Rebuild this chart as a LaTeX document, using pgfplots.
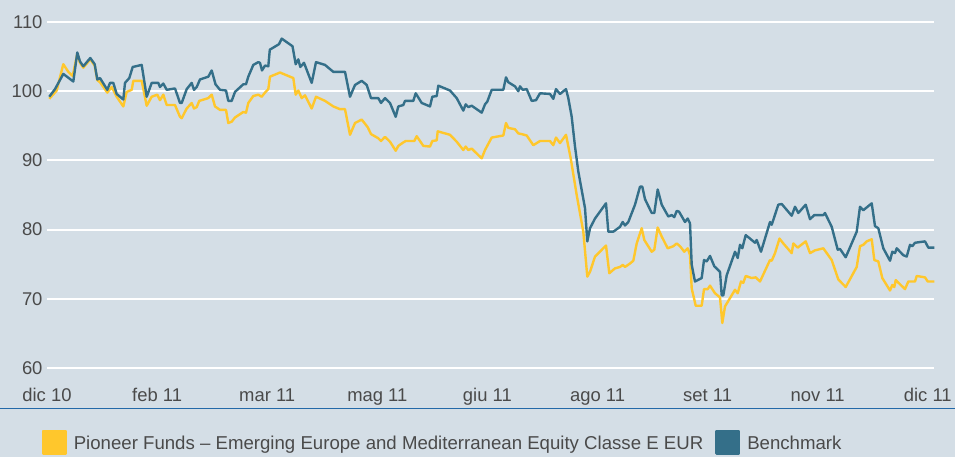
\documentclass[border=0pt]{standalone}
\usepackage{fontspec}
\setmainfont{Liberation Sans}
\usepackage{pgfplots}
\pgfplotsset{compat=1.18}
\definecolor{bg}{HTML}{D4DEE6}
\definecolor{fundy}{HTML}{FFC72C}
\definecolor{bench}{HTML}{346F89}
\definecolor{txt}{HTML}{4A4A4A}
\definecolor{rulec}{HTML}{2369A8}
\begin{document}
\begin{tikzpicture}
\useasboundingbox (0,0) rectangle (955bp,457bp);
\fill[bg] (0,0) rectangle (955bp,457bp);
\draw[rulec, line width=1.5bp] (0,48.7bp) -- (955bp,48.7bp);
\begin{axis}[
  at={(47bp,89bp)}, anchor=south west,
  scale only axis, width=887.3bp, height=346bp,
  xmin=47, xmax=934.3, ymin=60, ymax=110,
  axis line style={draw=none},
  major tick length=0pt,
  ytick={60,70,80,90,100,110},
  yticklabels={60,70,80,90,100,110},
  xtick={47,157.1,267.2,377.3,487.4,597.5,707.6,817.7,927.8},
  xticklabels={dic 10,feb 11,mar 11,mag 11,giu 11,ago 11,set 11,nov 11,dic 11},
  ymajorgrids, grid style={white, line width=2bp},
  tick label style={font=\fontsize{18.5}{22}\selectfont, text=txt},
  xticklabel style={anchor=base, yshift=-33.7bp},
  yticklabel style={anchor=east, inner sep=0pt, xshift=-4.3bp},
  clip=false,
  legend columns=2,
  legend style={at={(-0.006,-0.214)}, anchor=west, draw=none, fill=none,
    inner sep=0pt, font=\fontsize{18.7}{22}\selectfont, text=txt,
    /tikz/every even column/.append style={column sep=10bp}},
  legend image code/.code={\fill (0bp,-11.3bp) rectangle (22.7bp,11.3bp); \path (27.5bp,0bp);},
  every axis plot/.append style={line width=2.4bp, line join=round},
]
\addplot[color=fundy] coordinates {
(49.3,98.9)(56.7,100.1)(63.3,103.9)(68.3,102.8)(72.7,102.2)(77.3,105.4)(80,104.1)(83.3,103.4)(90.3,104.6)(94.7,103.7)(97.3,101.6)(100,101.3)(107.3,99.8)(111.7,100.6)(116.7,99.2)(123.3,97.8)(126.7,99.9)(131.7,100.2)(133.3,101.5)(141.7,101.5)(146.7,97.9)(151.7,99.2)(157.3,99.5)(160,98.7)(163.3,99.5)(166.7,98.0)(175,98.0)(180,96.3)(181.7,96.1)(186.7,97.5)(191.7,98.3)(194,97.5)(196.7,97.7)(199.3,98.6)(208.3,99.0)(211.7,99.5)(215,97.8)(220,97.3)(226,97.3)(228.3,95.4)(231.7,95.6)(235,96.2)(243.3,97.0)(246,96.9)(248.3,98.3)(253.3,99.3)(258.3,99.5)(261.7,99.2)(265,99.8)(268.3,100.3)(270,102.1)(280,102.7)(293.3,101.9)(295.7,99.5)(298.3,100.1)(301.7,99.0)(305,99.4)(311.7,97.5)(316,99.2)(325,98.6)(333.3,97.8)(340,97.4)(345,97.4)(350,93.7)(355,95.4)(361.7,95.9)(367.7,94.8)(371,93.8)(378.3,93.2)(381,92.8)(385,93.4)(390,92.7)(395.7,91.4)(398.3,92.1)(403.3,92.6)(405.7,92.8)(414.3,92.8)(416.7,93.5)(423.3,92.1)(430,92.0)(432.3,92.8)(436.7,92.9)(437.7,94.2)(450,93.7)(456.7,92.7)(463.3,91.5)(465.7,92.0)(468.3,91.5)(471.7,91.7)(481.7,90.3)(485,91.5)(491.7,93.3)(503.3,93.6)(506,95.4)(508.3,94.7)(515,94.5)(518.3,93.9)(521.7,93.8)(526.7,93.6)(533.3,92.2)(540,92.8)(550,92.8)(553.3,92.2)(556,93.3)(560,92.5)(566,93.7)(570.7,90.3)(576.7,85.0)(583.3,79.7)(587.3,73.2)(590,73.9)(595,76.1)(606,77.7)(609.3,73.7)(615,74.4)(620,74.6)(622.7,74.9)(625,74.6)(630,75.1)(633.3,75.5)(636.7,78.0)(641.7,80.2)(644.3,78.5)(651.7,76.8)(654.3,77.1)(657.7,80.3)(661.7,79.0)(667.7,77.3)(673.3,77.6)(676.7,78.0)(680,77.6)(684.3,76.8)(687.7,77.3)(690,76.3)(691.7,71.5)(695.7,69.0)(701.7,69.0)(704,71.4)(707.7,71.4)(710,71.9)(715,70.8)(720,70.2)(722.3,66.5)(725,68.9)(735,71.3)(737.7,70.8)(741,72.5)(743.3,72.3)(745.7,73.3)(751.7,73.0)(755.7,73.1)(760,72.5)(770,75.6)(771.7,75.5)(775,76.6)(779.5,78.7)(783.3,78.0)(791.7,76.6)(793.3,78.0)(797.7,77.4)(805.7,78.3)(810,76.6)(815,77.0)(823.3,77.3)(831.7,75.6)(838.3,72.8)(845.7,71.7)(856.7,74.6)(860,77.6)(863.3,77.8)(866.7,78.3)(871.7,78.6)(874.3,75.6)(878.3,75.4)(882.3,73.0)(890,71.2)(892.3,72.0)(894.3,71.7)(895.7,72.7)(905,71.4)(908.3,72.5)(915,72.5)(916.7,73.3)(925,73.1)(927.7,72.5)(934.3,72.5)
};
\addlegendentry{\raisebox{-3.5bp}{Pioneer Funds -- Emerging Europe and Mediterranean Equity Classe E EUR}}
\addplot[color=bench] coordinates {
(49.3,99.2)(55,100.3)(63.3,102.5)(73.3,101.4)(77.3,105.6)(80,104.3)(83.3,103.6)(90.3,104.8)(94.7,103.9)(97.3,101.7)(100,101.9)(107.3,100.2)(110,101.2)(113.3,101.2)(116.7,99.6)(123.3,98.8)(125,101.2)(129.3,101.9)(132.7,103.5)(141.7,103.8)(146.7,99.2)(151.7,101.2)(158.3,101.2)(160,100.6)(163.3,101.1)(166.7,100.2)(175,100.4)(180,98.3)(181.7,98.3)(186.7,100.3)(191.7,101.2)(194,100.2)(196.7,100.6)(200,101.7)(208.3,102.1)(211.7,103.0)(215.5,101.0)(220,100.2)(226,100.1)(228.3,98.6)(231.7,98.6)(235,99.9)(243.3,101.0)(246,101.0)(248.3,102.1)(253.3,103.8)(258.3,104.2)(260,104.1)(262,103.0)(265,103.7)(268.3,103.6)(269.8,106.0)(279,106.8)(281.7,107.6)(292.5,106.5)(295.7,103.9)(298.3,104.6)(300.3,103.5)(304,104.1)(311.7,101.2)(316,104.2)(325,103.8)(333.3,102.8)(345,102.8)(350,99.2)(355,100.9)(361.7,101.5)(366.7,100.9)(371,99.0)(378.3,99.0)(381,98.3)(385,99.0)(390,98.3)(395.7,96.3)(398.3,97.8)(403.3,98.0)(405,98.6)(413.3,98.6)(415.7,99.7)(421.7,98.3)(430,97.8)(432.3,99.2)(436.7,99.3)(438.3,100.8)(450,100.1)(456.7,99.0)(463.3,97.2)(465.7,98.1)(468.3,97.7)(471.7,97.9)(481.7,96.9)(485,98.1)(487.3,98.5)(491.7,100.2)(503.3,100.2)(506,102.0)(508.3,101.3)(515,100.7)(518.3,100.0)(520,100.7)(522.7,100.2)(526.7,100.3)(531.7,98.6)(536,98.7)(540,99.7)(550,99.6)(553.3,98.9)(556,100.3)(560,99.6)(566,100.3)(568.3,99.0)(571.7,96.3)(575,92.0)(578.3,88.4)(585,83.1)(587.3,78.3)(590,80.2)(595,81.6)(606,83.8)(608.3,79.7)(613.3,79.7)(620,80.4)(622.7,81.1)(625,80.6)(628.3,81.1)(635,83.6)(640,86.2)(642.3,86.2)(645,84.4)(651.7,82.4)(654.3,82.4)(657.7,85.8)(661.7,83.6)(668.3,81.9)(671.7,82.1)(674.3,81.8)(676.7,82.7)(679,82.6)(685,81.1)(687.7,81.6)(690,80.9)(691.7,74.9)(695,72.5)(701.7,73.0)(704,75.6)(706.7,75.4)(710,76.2)(714.3,74.7)(720,73.9)(721.7,70.5)(723.3,70.5)(726.7,73.4)(735,76.8)(737.7,75.9)(740,77.8)(742.3,77.3)(745.7,79.2)(750,78.7)(755,78.1)(756.7,78.5)(761,76.8)(770,81.1)(771.7,80.7)(778.3,83.6)(781.7,83.7)(791.7,82.0)(795,83.3)(798.3,82.4)(805.7,83.6)(810,81.5)(814.3,82.1)(823.3,82.1)(825,82.4)(831.7,80.4)(837.7,77.1)(840,77.2)(845.7,76.0)(856.7,79.7)(860,83.3)(863.3,82.8)(871.7,83.8)(875,80.5)(878.3,80.2)(883.3,77.3)(890,75.5)(892.3,76.8)(895,76.6)(896.7,77.3)(903.3,76.3)(906.7,76.1)(910,77.8)(912.3,77.6)(915,78.1)(925,78.3)(928.3,77.4)(934.3,77.4)
};
\addlegendentry{\raisebox{-3.5bp}{Benchmark}}
\end{axis}
\end{tikzpicture}
\end{document}
